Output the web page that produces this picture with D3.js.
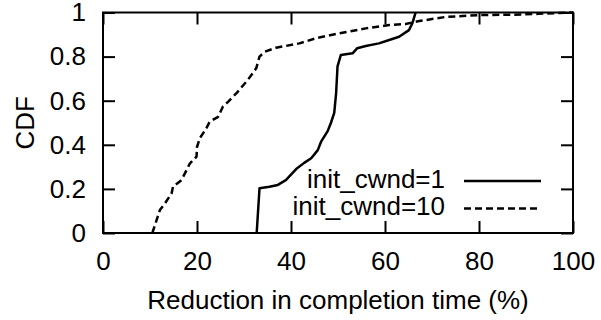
<!DOCTYPE html>
<html lang="en">
<head>
<meta charset="UTF-8">
<title>CDF</title>
<script src="https://d3js.org/d3.v7.min.js"></script>
<style>
  body { margin: 0; background: #fff; }
  svg text { font-family: "Liberation Sans", Arial, Helvetica, sans-serif; font-size: 26px; fill: #000; }
</style>
</head>
<body>
<script>
// reduction in completion time (%) vs CDF
var cwnd1X = [32.7, 33.3, 35.4, 37.2, 38.9, 41.1, 42.8, 44.3, 45.7, 46.4, 47.8, 48.5, 49.2, 49.6, 49.9, 50.6, 53.1, 54.1, 55.9, 58.7, 60.9, 63.0, 65.1, 65.8, 66.3, 66.5];
var cwnd1Y = [0, 0.203, 0.21, 0.218, 0.24, 0.29, 0.318, 0.339, 0.376, 0.414, 0.462, 0.5, 0.545, 0.634, 0.756, 0.807, 0.815, 0.838, 0.848, 0.86, 0.875, 0.89, 0.92, 0.95, 0.985, 1];
var cwnd10X = [10.5, 12.1, 13.2, 14.6, 14.9, 16.7, 18.5, 19.9, 20.0, 20.6, 22.0, 22.7, 24.5, 25.5, 26.6, 28.4, 30.8, 32.6, 33.3, 34.4, 36.8, 41.8, 45.3, 50.3, 55.9, 60.9, 64.4, 67.0, 72.9, 80, 87, 92.7, 96.9, 100];
var cwnd10Y = [0, 0.104, 0.135, 0.18, 0.21, 0.24, 0.316, 0.346, 0.39, 0.43, 0.475, 0.505, 0.527, 0.573, 0.595, 0.634, 0.694, 0.747, 0.80, 0.822, 0.84, 0.86, 0.883, 0.906, 0.928, 0.943, 0.948, 0.96, 0.98, 0.988, 0.99, 0.994, 0.998, 1];
var xTicks = [0, 20, 40, 60, 80, 100];
var yTicks = [0, 0.2, 0.4, 0.6, 0.8, 1];
var seriesNames = ["init_cwnd=1", "init_cwnd=10"];

var w = 601, h = 320;
var plotL = 103, plotR = 573, plotT = 12.5, plotB = 233;

var svg = d3.select("body").append("svg")
    .attr("width", w)
    .attr("height", h);

var x = d3.scaleLinear().domain([0, 100]).range([plotL, plotR]);
var y = d3.scaleLinear().domain([0, 1]).range([plotB, plotT]);

function styleAxis(g) {
    g.select(".domain").remove();
    g.selectAll("line").attr("stroke", "#000").attr("stroke-width", 2);
    g.attr("font-size", null).attr("font-family", null);
}

// bottom + top ticks (inward, gnuplot style)
svg.append("g")
    .attr("transform", "translate(0," + plotB + ")")
    .call(d3.axisBottom(x).tickValues(xTicks).tickSize(-12).tickPadding(18.5).tickFormat(d3.format("d")))
    .call(styleAxis);
svg.append("g")
    .attr("transform", "translate(0," + plotT + ")")
    .call(d3.axisTop(x).tickValues(xTicks).tickSize(-12).tickFormat(""))
    .call(styleAxis);

// left + right ticks
svg.append("g")
    .attr("transform", "translate(" + plotL + ",0)")
    .call(d3.axisLeft(y).tickValues(yTicks).tickSize(-12).tickPadding(17)
        .tickFormat(function (d) { return d === 0 || d === 1 ? d3.format("d")(d) : d3.format(".1f")(d); }))
    .call(styleAxis);
svg.append("g")
    .attr("transform", "translate(" + plotR + ",0)")
    .call(d3.axisRight(y).tickValues(yTicks).tickSize(-12).tickFormat(""))
    .call(styleAxis);

// frame
svg.append("rect")
    .attr("x", plotL).attr("y", plotT)
    .attr("width", plotR - plotL).attr("height", plotB - plotT)
    .attr("fill", "none").attr("stroke", "#000").attr("stroke-width", 2);

// axis titles
svg.append("text")
    .attr("x", (plotL + plotR) / 2).attr("y", 309)
    .attr("text-anchor", "middle")
    .text("Reduction in completion time (%)");
svg.append("text")
    .attr("transform", "translate(34," + (plotT + plotB) / 2 + ") rotate(-90)")
    .attr("text-anchor", "middle")
    .text("CDF");

var line = d3.line()
    .x(function (d) { return x(d[0]); })
    .y(function (d) { return y(d[1]); });

var series = [
    { pts: d3.zip(cwnd1X, cwnd1Y), dash: null },
    { pts: d3.zip(cwnd10X, cwnd10Y), dash: "7,4" }
];

svg.selectAll("path.curve")
    .data(series)
    .enter().append("path")
    .attr("class", "curve")
    .attr("d", function (d) { return line(d.pts); })
    .attr("fill", "none")
    .attr("stroke", "#000")
    .attr("stroke-width", 2.5)
    .attr("stroke-linejoin", "round")
    .attr("stroke-dasharray", function (d) { return d.dash; });

// legend
var legend = svg.selectAll("g.leg")
    .data(series)
    .enter().append("g")
    .attr("class", "leg")
    .attr("transform", function (d, i) { return "translate(0," + (181 + i * 27.5) + ")"; });
legend.append("text")
    .attr("x", 445).attr("y", 6.5)
    .attr("text-anchor", "end")
    .text(function (d, i) { return seriesNames[i]; });
legend.append("line")
    .attr("x1", 464).attr("x2", 541)
    .attr("stroke", "#000").attr("stroke-width", 2.5)
    .attr("stroke-dasharray", function (d) { return d.dash; });
</script>
</body>
</html>
